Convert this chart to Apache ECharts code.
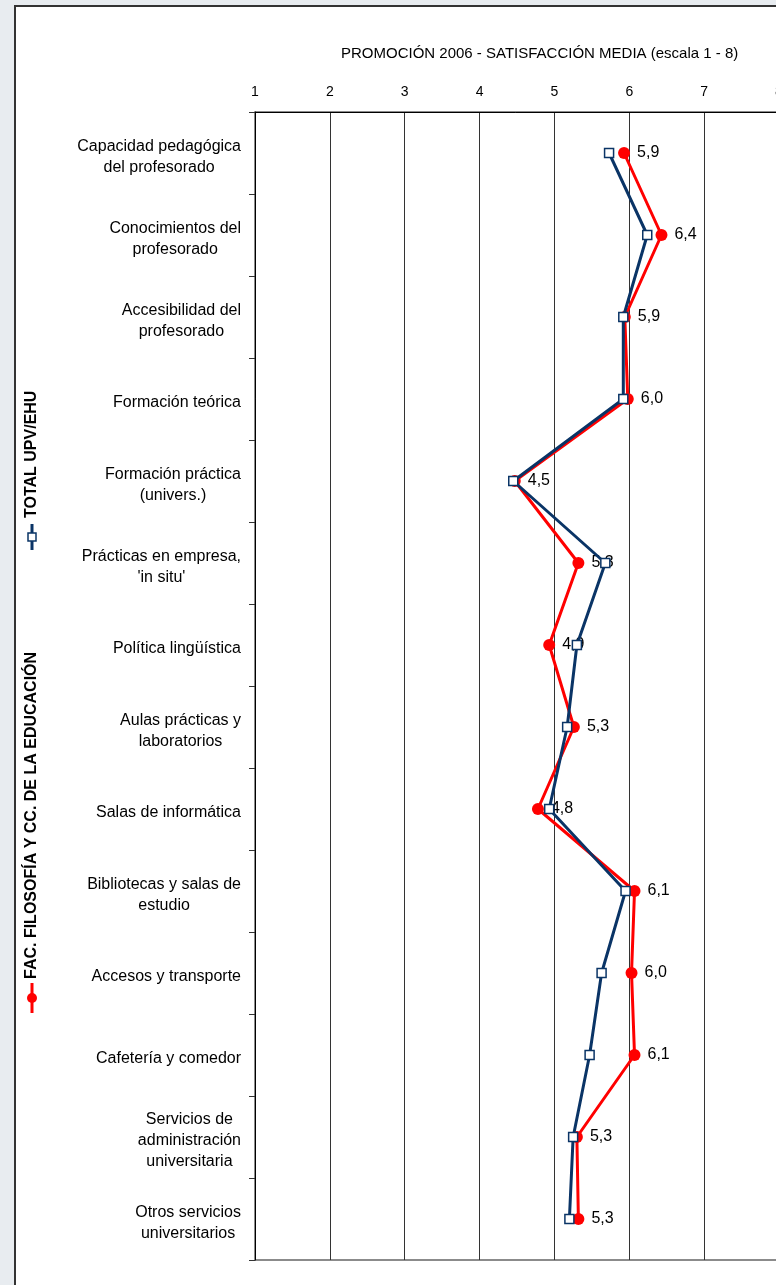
<!DOCTYPE html>
<html>
<head>
<meta charset="utf-8">
<script src="https://cdn.jsdelivr.net/npm/echarts@6/dist/echarts.min.js"></script>
<style>
    body { margin: 0; background: #e8ecf0; }
    #frame { position: absolute; left: 14px; top: 5px; width: 800px; height: 1300px;
             background: #fff; border: 2px solid #333; }
    #chart { position: absolute; left: 0; top: 0; width: 776px; height: 1285px; }
</style>
</head>
<body>
<div id="frame"></div>
<div id="chart"></div>
<script>
    /*categorías y valores*/
    var categorias = [
        'Capacidad pedagógica\ndel profesorado',
        'Conocimientos del\nprofesorado',
        'Accesibilidad del\nprofesorado',
        'Formación teórica',
        'Formación práctica\n(univers.)',
        'Prácticas en empresa,\n\'in situ\'',
        'Política lingüística',
        'Aulas prácticas y\nlaboratorios',
        'Salas de informática',
        'Bibliotecas y salas de\nestudio',
        'Accesos y transporte',
        'Cafetería y comedor',
        'Servicios de\nadministración\nuniversitaria',
        'Otros servicios\nuniversitarios'
    ];
    var facultad = [5.93, 6.43, 5.94, 5.98, 4.47, 5.32, 4.93, 5.26, 4.78, 6.07, 6.03, 6.07, 5.30, 5.32];
    var totalUpv = [5.73, 6.24, 5.92, 5.92, 4.45, 5.68, 5.30, 5.17, 4.93, 5.95, 5.63, 5.47, 5.25, 5.20];
    var nombreFac = 'FAC. FILOSOFÍA Y CC. DE LA EDUCACIÓN';
    var nombreTotal = 'TOTAL UPV/EHU';

    var fuente = "'Liberation Sans', Arial, sans-serif";
    var azul = '#0a3466';
    var rojo = '#ff0000';

    var chart = echarts.init(document.getElementById('chart'));
    var option = {
        animation: false,
        textStyle: { fontFamily: fuente },
        title: {
            text: 'PROMOCIÓN 2006 - SATISFACCIÓN MEDIA (escala 1 - 8)',
            left: 336,
            top: 41,
            textStyle: { fontSize: 15, fontWeight: 'normal', color: '#000', fontFamily: fuente }
        },
        grid: {
            left: 255,
            top: 112,
            width: 524,
            height: 1148,
            outerBoundsMode: 'none',
            show: true,
            borderColor: '#666',
            borderWidth: 1.5
        },
        xAxis: {
            type: 'value',
            position: 'top',
            min: 1,
            max: 8,
            interval: 1,
            axisLine: { show: true, lineStyle: { color: '#000', width: 1 } },
            axisTick: { show: false },
            splitLine: { show: true, lineStyle: { color: '#333', width: 1 } },
            axisLabel: { margin: 13, fontSize: 14, color: '#000', fontFamily: fuente }
        },
        yAxis: {
            type: 'category',
            inverse: true,
            data: categorias,
            axisLine: { show: true, lineStyle: { color: '#000', width: 1 } },
            axisTick: { show: true, length: 6, lineStyle: { color: '#333' } },
            axisLabel: {
                margin: 14,
                color: '#000',
                fontSize: 16,
                lineHeight: 21,
                padding: [8, 0, 0, 0],
                fontFamily: fuente,
                formatter: function (v) {
                    return v.split('\n').map(function (s) { return '{c|' + s + '}'; }).join('\n');
                },
                rich: { c: { align: 'center', fontSize: 16, lineHeight: 21, color: '#000', fontFamily: fuente } }
            }
        },
        graphic: [
            { type: 'line', shape: { x1: 32, y1: 524, x2: 32, y2: 550 }, style: { stroke: azul, lineWidth: 3 } },
            { type: 'rect', shape: { x: 28, y: 533, width: 8, height: 8 }, style: { fill: '#fff', stroke: azul, lineWidth: 1.5 } },
            { type: 'text', x: 32, y: 518, rotation: Math.PI / 2,
              style: { text: nombreTotal, fill: '#000', font: 'bold 16px ' + fuente, textAlign: 'left', textVerticalAlign: 'middle' } },
            { type: 'line', shape: { x1: 32, y1: 983, x2: 32, y2: 1013 }, style: { stroke: rojo, lineWidth: 3 } },
            { type: 'circle', shape: { cx: 32, cy: 998, r: 5 }, style: { fill: rojo } },
            { type: 'text', x: 32, y: 979, rotation: Math.PI / 2,
              style: { text: nombreFac, fill: '#000', font: 'bold 16px ' + fuente, textAlign: 'left', textVerticalAlign: 'middle' } }
        ],
        series: [
            {
                name: nombreFac,
                type: 'line',
                data: facultad,
                symbol: 'circle',
                symbolSize: 12,
                lineStyle: { color: rojo, width: 3 },
                itemStyle: { color: rojo },
                label: {
                    show: true,
                    position: 'right',
                    distance: 7,
                    color: '#000',
                    fontSize: 16,
                    fontFamily: fuente,
                    formatter: function (p) { return p.value.toFixed(1).replace('.', ','); }
                },
                z: 3
            },
            {
                name: nombreTotal,
                type: 'line',
                data: totalUpv,
                symbol: 'rect',
                symbolSize: 9,
                lineStyle: { color: azul, width: 3 },
                itemStyle: { color: '#fff', borderColor: azul, borderWidth: 1.5 },
                z: 4
            }
        ]
    };
    chart.setOption(option);
</script>
</body>
</html>
